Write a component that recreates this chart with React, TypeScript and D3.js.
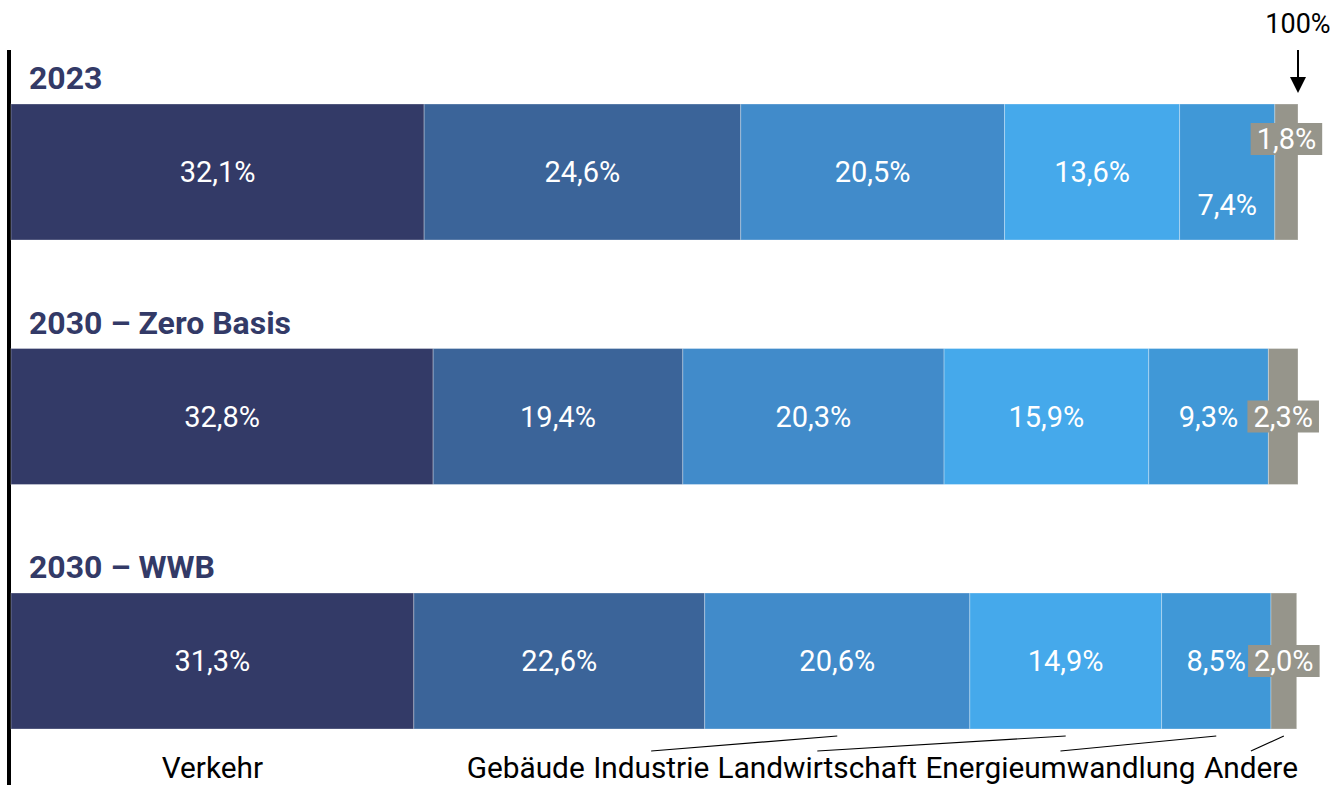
import React, { useEffect, useRef } from "react";
import * as d3 from "d3";

const scenarios = ["2023", "2030 – Zero Basis", "2030 – WWB"];
const sectors = ["Verkehr", "Gebäude", "Industrie", "Landwirtschaft", "Energieumwandlung", "Andere"];
const values2023 = [32.1, 24.6, 20.5, 13.6, 7.4, 1.8];
const valuesZero = [32.8, 19.4, 20.3, 15.9, 9.3, 2.3];
const valuesWWB = [31.3, 22.6, 20.6, 14.9, 8.5, 2.0];
const sectorColors = ["#333a67", "#3b6499", "#418bca", "#45a9eb", "#4098d7", "#96958b"];
const totalLabel = "100%";

const W = 1334;
const H = 785;
const FONT = "Roboto, 'Noto Sans', sans-serif";

const fmt = (v: number) => v.toFixed(1).replace(".", ",") + "%";

export default function App() {
  const ref = useRef<SVGSVGElement>(null);

  useEffect(() => {
    const svg = d3.select(ref.current);
    svg.selectAll("*").remove();

    const rows = [values2023, valuesZero, valuesWWB].map((vals, i) => {
      const o: any = { scenario: scenarios[i] };
      sectors.forEach((s, j) => (o[s] = vals[j]));
      return o;
    });
    const stacked = d3.stack().keys(sectors)(rows);

    const x = d3.scaleLinear().domain([0, 100]).range([11, 1298]);
    const y = d3.scaleBand().domain(scenarios).range([104, 729]).paddingInner(0.4438).paddingOuter(0);
    const color = d3.scaleOrdinal<string, string>().domain(sectors).range(sectorColors);

    // axis line
    svg.append("line").attr("x1", 9).attr("x2", 9).attr("y1", 50).attr("y2", H)
      .attr("stroke", "#000").attr("stroke-width", 4);

    // titles
    svg.selectAll("text.title").data(scenarios).join("text")
      .attr("class", "title")
      .attr("x", 29)
      .attr("y", (d) => (y(d) as number) - 15)
      .attr("font-family", FONT).attr("font-weight", 700).attr("font-size", 32)
      .attr("fill", "#333a67")
      .text((d) => d);

    // bars
    const g = svg.append("g");
    stacked.forEach((layer) => {
      g.selectAll(null).data(layer).join("rect")
        .attr("x", (d) => x(d[0]))
        .attr("width", (d) => x(d[1]) - x(d[0]))
        .attr("y", (d: any) => y(d.data.scenario) as number)
        .attr("height", y.bandwidth())
        .attr("fill", color(layer.key))
        .attr("stroke", "rgba(255,255,255,0.3)")
        .attr("stroke-width", 1);
    });

    // value labels
    const last = sectors[sectors.length - 1];
    const secondLast = sectors[sectors.length - 2];
    const lfs = 29;
    stacked.forEach((layer) => {
      layer.forEach((d: any, i) => {
        const scen = d.data.scenario;
        const cx = (x(d[0]) + x(d[1])) / 2;
        let cy = (y(scen) as number) + y.bandwidth() / 2;
        const staggered = i === 0;
        if (staggered && layer.key === last) cy -= 33;
        if (staggered && layer.key === secondLast) cy += 33;
        const label = fmt(d[1] - d[0]);
        const t = svg.append("text")
          .attr("x", cx).attr("y", cy).attr("dy", "0.36em")
          .attr("text-anchor", "middle")
          .attr("font-family", FONT).attr("font-size", lfs).attr("fill", "#fff")
          .text(label);
        if (layer.key === last) {
          const w = (t.node() as SVGTextElement).getComputedTextLength();
          svg.insert("rect", () => t.node() as any)
            .attr("x", cx - w / 2 - 6).attr("width", w + 12)
            .attr("y", cy - 16).attr("height", 32)
            .attr("fill", color(layer.key));
        }
      });
    });

    // 100% marker
    svg.append("text").attr("x", x(100)).attr("y", 33).attr("text-anchor", "middle")
      .attr("font-family", FONT).attr("font-size", 27).attr("fill", "#000").text(totalLabel);
    svg.append("line").attr("x1", x(100)).attr("x2", x(100)).attr("y1", 50).attr("y2", 80)
      .attr("stroke", "#000").attr("stroke-width", 2);
    svg.append("path")
      .attr("d", `M${x(100) - 8},77 L${x(100) + 8},77 L${x(100)},93 Z`)
      .attr("fill", "#000");

    // bottom category labels
    const lastRow = stacked.map((layer) => layer[layer.length - 1]);
    const baseY = 778;
    const fs = 29.8;
    const v0 = lastRow[0];
    svg.append("text").attr("x", (x(v0[0]) + x(v0[1])) / 2).attr("y", baseY)
      .attr("text-anchor", "middle").attr("font-family", FONT).attr("font-size", fs)
      .attr("fill", "#000").text(sectors[0]);
    const rest = sectors.slice(1);
    const tmp = svg.append("text").attr("font-family", FONT).attr("font-size", fs);
    const spaceW = (() => {
      tmp.text("a a");
      const a2 = (tmp.node() as SVGTextElement).getComputedTextLength();
      tmp.text("aa");
      const a1 = (tmp.node() as SVGTextElement).getComputedTextLength();
      return a2 - a1;
    })() + 1;
    const widths = rest.map((s) => {
      tmp.text(s);
      return (tmp.node() as SVGTextElement).getComputedTextLength();
    });
    tmp.remove();
    let cursor = x(100);
    const starts: number[] = [];
    for (let i = rest.length - 1; i >= 0; i--) {
      cursor -= widths[i];
      starts[i] = cursor;
      cursor -= spaceW;
    }
    rest.forEach((s, i) => {
      svg.append("text").attr("x", starts[i]).attr("y", baseY)
        .attr("font-family", FONT).attr("font-size", fs).attr("fill", "#000").text(s);
      const lc = starts[i] + widths[i] / 2;
      const seg = lastRow[i + 1];
      const s0 = x(seg[0]);
      const s1 = x(seg[1]);
      if (lc < s0 || lc > s1) {
        svg.append("line").attr("x1", lc).attr("y1", 751).attr("x2", (s0 + s1) / 2).attr("y2", 736)
          .attr("stroke", "#000").attr("stroke-width", 1.2);
      }
    });
  }, []);

  return (
    <svg ref={ref} width={W} height={H}
      style={{ position: "absolute", left: 0, top: 0, background: "#fff" }} />
  );
}
